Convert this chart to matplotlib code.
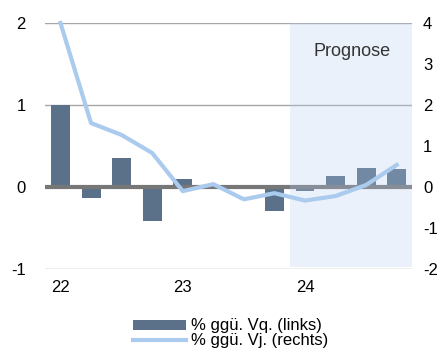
import numpy as np
import matplotlib.pyplot as plt
from matplotlib.lines import Line2D
from matplotlib.patches import Patch

plt.rcParams['font.family'] = ['Liberation Sans', 'DejaVu Sans']

#%% data
quarters = ['22Q1', '22Q2', '22Q3', '22Q4', '23Q1', '23Q2', '23Q3', '23Q4',
            '24Q1', '24Q2', '24Q3', '24Q4']
qoq = [1.0, -0.13, 0.35, -0.41, 0.1, 0.0, 0.0, -0.29, -0.05, 0.13, 0.23, 0.22]
yoy = [4.0, 1.56, 1.27, 0.83, -0.1, 0.07, -0.3, -0.15, -0.33, -0.22, 0.05, 0.54]
tick_pos = [0, 4, 8]
tick_labels = ['22', '23', '24']
forecast_start = 7.5

bar_color = '#5b7189'
line_color = '#abcbee'

#%% plot
fig = plt.figure(figsize=(4.43, 3.54), dpi=100)
ax = fig.add_axes([0.102, 0.24, 0.828, 0.695])
ax2 = ax.twinx()

x = np.arange(len(quarters))
ax.bar(x, qoq, width=0.62, color=bar_color, zorder=2)
ax.axhline(0, color='#777777', lw=3, zorder=3)
ax.axvspan(forecast_start, 11.5, ymin=0.008, ymax=1, facecolor='#b3cdee',
           alpha=0.27, lw=0, zorder=4)
for y in [2, 1, -1]:
    ax.axhline(y, color='#a6a6a6', lw=1, zorder=1)

ax2.plot(x, yoy, color=line_color, lw=3, zorder=5, clip_on=False,
         solid_joinstyle='round')

ax.set_xlim(-0.5, 11.5)
ax.set_ylim(-1, 2)
ax2.set_ylim(-2, 4)
ax.set_yticks([-1, 0, 1, 2])
ax.set_yticklabels(['-1', '0', '1', '2'])
ax2.set_yticks([-2, -1, 0, 1, 2, 3, 4])
ax2.set_yticklabels(['-2', '-1', '0', '1', '2', '3', '4'])
ax.set_xticks(tick_pos)
ax.set_xticklabels(tick_labels)

for a in (ax, ax2):
    for s in a.spines.values():
        s.set_visible(False)
    a.tick_params(length=0, labelsize=12, colors='black')
ax.tick_params(axis='y', pad=14)
ax2.tick_params(axis='y', pad=8)
ax.tick_params(axis='x', pad=8)

ax2.set_zorder(ax.get_zorder() + 1)
ax2.patch.set_visible(False)

ax.text(9.55, 1.65, 'Prognose', ha='center', va='center', fontsize=13,
        color='#333333', zorder=6)

handles = [Patch(facecolor=bar_color, edgecolor='none'),
           Line2D([0], [0], color=line_color, lw=3)]
fig.legend(handles, ['% ggü. Vq. (links)', '% ggü. Vj. (rechts)'],
           loc='center', bbox_to_anchor=(0.52, 0.058), frameon=False,
           fontsize=12, handlelength=3.2, handleheight=0.55,
           labelspacing=0.0, handletextpad=0.3, borderpad=0)

fig.savefig('out.png', dpi=100)
